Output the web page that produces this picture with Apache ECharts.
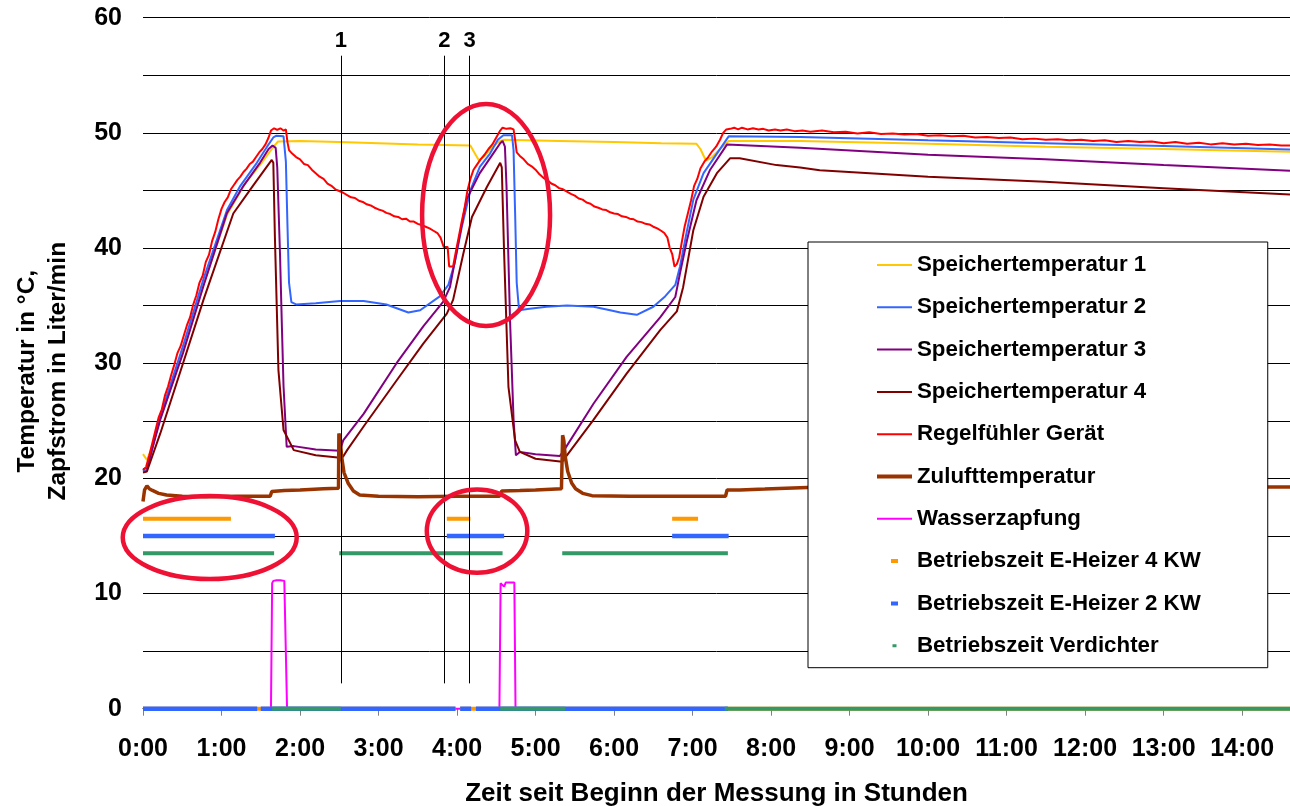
<!DOCTYPE html>
<html>
<head>
<meta charset="utf-8">
<title>Speichertemperaturen</title>
<script src="https://cdn.jsdelivr.net/npm/echarts@6/dist/echarts.min.js"></script>
<style>
  html, body { margin: 0; padding: 0; background: #fff; }
  #root { width: 1290px; height: 806px; }
</style>
</head>
<body>
<div id="root"></div>
<script>
// x = hours since start of measurement, y = °C (or l/min for Wasserzapfung)
const speicher1 = [[0, 22.1], [0.05, 21.6], [0.1, 22.4], [0.22, 25.2], [0.51, 31.0], [0.77, 36.8], [1.07, 42.9], [1.3, 45.6], [1.5, 47.3], [1.65, 48.7], [1.72, 49.25], [2.0, 49.3], [2.5, 49.2], [3.0, 49.1], [3.5, 49.0], [4.17, 48.9], [4.22, 48.3], [4.28, 47.6], [4.35, 48.0], [4.45, 48.8], [4.55, 49.3], [4.6, 49.4], [5.3, 49.3], [6.0, 49.2], [6.6, 49.1], [7.05, 49.05], [7.1, 48.6], [7.17, 47.6], [7.25, 47.9], [7.35, 48.6], [7.46, 49.3], [8.37, 49.3], [10.0, 49.05], [11.5, 48.8], [13.0, 48.6], [14.61, 48.35]]

const speicher2 = [[0, 20.6], [0.05, 20.7], [0.22, 25.4], [0.51, 31.5], [0.77, 37.3], [1.07, 43.3], [1.24, 45.4], [1.45, 47.4], [1.58, 48.8], [1.66, 49.6], [1.7, 49.75], [1.79, 49.7], [1.82, 47.5], [1.84, 42.0], [1.86, 37.0], [1.89, 35.3], [1.95, 35.1], [2.2, 35.2], [2.51, 35.4], [2.81, 35.4], [3.1, 35.1], [3.38, 34.4], [3.53, 34.6], [3.78, 35.8], [3.89, 36.8], [3.97, 38.7], [4.06, 41.8], [4.17, 45.0], [4.29, 47.05], [4.42, 48.2], [4.52, 49.4], [4.59, 49.8], [4.7, 49.8], [4.72, 48.5], [4.74, 43.0], [4.76, 37.0], [4.79, 34.6], [4.9, 34.7], [5.14, 34.9], [5.4, 35.0], [5.74, 34.9], [5.95, 34.6], [6.08, 34.4], [6.29, 34.2], [6.5, 34.9], [6.65, 35.8], [6.78, 36.8], [6.84, 38.4], [6.93, 41.55], [7.01, 44.2], [7.14, 46.5], [7.31, 48.2], [7.46, 49.7], [8.37, 49.65], [10.0, 49.35], [11.49, 49.1], [13.0, 48.85], [14.61, 48.55]]

const speicher3 = [[0, 20.8], [0.05, 20.9], [0.22, 25.1], [0.51, 30.9], [0.77, 36.7], [1.07, 43.05], [1.28, 45.4], [1.49, 47.4], [1.6, 48.6], [1.65, 48.9], [1.69, 48.7], [1.71, 47.0], [1.745, 39.5], [1.77, 33.0], [1.79, 28.0], [1.83, 22.75], [1.85, 22.6], [1.92, 22.8], [2.2, 22.5], [2.51, 22.4], [2.55, 23.3], [2.81, 25.6], [3.23, 30.0], [3.57, 33.2], [3.825, 35.35], [3.91, 36.6], [3.99, 39.5], [4.12, 44.2], [4.29, 46.5], [4.46, 48.2], [4.55, 49.1], [4.58, 49.3], [4.61, 48.8], [4.63, 45.4], [4.675, 33.75], [4.72, 25.1], [4.75, 22.0], [4.8, 22.3], [5.0, 22.1], [5.31, 21.95], [5.35, 22.3], [5.74, 26.5], [6.16, 30.55], [6.59, 34.0], [6.78, 35.75], [6.84, 37.8], [6.93, 40.7], [7.05, 44.15], [7.22, 46.75], [7.44, 49.0], [8.37, 48.7], [10.0, 48.1], [11.49, 47.7], [13.0, 47.2], [14.61, 46.7]]

const speicher4 = [[0, 20.5], [0.05, 20.6], [0.22, 23.9], [0.51, 30.0], [0.77, 35.5], [1.15, 43.0], [1.4, 45.4], [1.64, 47.65], [1.66, 47.4], [1.68, 41.0], [1.725, 29.4], [1.79, 24.2], [1.92, 22.45], [2.2, 22.0], [2.51, 21.8], [2.55, 21.9], [2.6, 22.45], [2.81, 24.5], [3.23, 28.5], [3.57, 31.7], [3.87, 34.3], [3.95, 35.5], [4.08, 39.5], [4.19, 42.7], [4.38, 45.3], [4.55, 47.4], [4.57, 47.0], [4.6, 39.5], [4.655, 27.95], [4.74, 23.3], [4.8, 22.3], [5.0, 21.7], [5.34, 21.45], [5.36, 21.6], [5.74, 25.1], [6.16, 29.1], [6.59, 32.9], [6.8, 34.5], [6.88, 36.6], [7.01, 41.55], [7.14, 44.45], [7.31, 46.5], [7.48, 47.8], [7.6, 47.8], [8.07, 47.2], [8.37, 47.0], [8.62, 46.75], [10.0, 46.2], [11.49, 45.75], [13.0, 45.2], [14.61, 44.65]]

const regelfuehler = [[0, 20.7], [0.04, 21.0], [0.08, 22.0], [0.12, 23.1], [0.16, 24.2], [0.2, 25.3], [0.24, 26.0], [0.28, 27.2], [0.32, 28.0], [0.36, 29.0], [0.4, 29.9], [0.44, 30.9], [0.48, 31.5], [0.52, 32.4], [0.56, 33.3], [0.6, 34.0], [0.64, 35.1], [0.68, 35.9], [0.72, 37.0], [0.76, 37.6], [0.8, 38.8], [0.84, 39.4], [0.88, 40.6], [0.92, 41.4], [0.96, 42.5], [1.0, 43.4], [1.04, 44.0], [1.08, 44.4], [1.12, 45.1], [1.16, 45.5], [1.2, 45.9], [1.24, 46.2], [1.28, 46.6], [1.32, 46.9], [1.36, 47.3], [1.4, 47.5], [1.44, 47.9], [1.48, 48.3], [1.52, 48.6], [1.56, 49.0], [1.6, 49.6], [1.63, 50.2], [1.67, 50.4], [1.71, 50.25], [1.75, 50.4], [1.79, 50.2], [1.82, 50.3], [1.84, 49.2], [1.86, 48.5], [1.9, 48.2], [1.95, 47.9], [2.0, 47.7], [2.05, 47.3], [2.1, 47.2], [2.15, 46.8], [2.2, 46.5], [2.25, 46.2], [2.3, 46.0], [2.35, 45.6], [2.4, 45.4], [2.45, 45.1], [2.5, 44.95], [2.55, 44.8], [2.6, 44.6], [2.65, 44.4], [2.7, 44.35], [2.75, 44.1], [2.8, 44.0], [2.85, 43.8], [2.9, 43.7], [2.95, 43.5], [3.0, 43.35], [3.05, 43.25], [3.1, 43.05], [3.15, 42.95], [3.2, 42.75], [3.25, 42.7], [3.3, 42.5], [3.35, 42.55], [3.4, 42.3], [3.45, 42.3], [3.5, 42.1], [3.55, 42.0], [3.6, 41.85], [3.65, 41.7], [3.7, 41.5], [3.75, 41.3], [3.79, 40.9], [3.83, 40.1], [3.88, 40.1], [3.9, 38.4], [3.95, 38.4], [3.98, 39.5], [4.02, 40.9], [4.06, 42.3], [4.1, 43.6], [4.13, 44.9], [4.17, 46.0], [4.21, 46.8], [4.25, 47.2], [4.3, 47.7], [4.35, 48.1], [4.4, 48.6], [4.45, 49.0], [4.5, 49.6], [4.55, 50.2], [4.58, 50.45], [4.63, 50.35], [4.68, 50.4], [4.72, 50.3], [4.74, 49.4], [4.76, 48.3], [4.8, 48.0], [4.85, 47.7], [4.9, 47.3], [4.95, 47.1], [5.0, 46.8], [5.05, 46.4], [5.1, 46.1], [5.15, 45.9], [5.2, 45.6], [5.25, 45.45], [5.3, 45.2], [5.35, 45.1], [5.4, 44.9], [5.45, 44.7], [5.5, 44.55], [5.55, 44.3], [5.6, 44.2], [5.65, 43.95], [5.7, 43.85], [5.75, 43.6], [5.8, 43.5], [5.85, 43.35], [5.9, 43.3], [5.95, 43.1], [6.0, 43.0], [6.05, 42.95], [6.1, 42.75], [6.15, 42.7], [6.2, 42.55], [6.25, 42.5], [6.3, 42.3], [6.35, 42.25], [6.4, 42.1], [6.45, 42.05], [6.5, 41.85], [6.55, 41.7], [6.6, 41.5], [6.64, 41.3], [6.68, 40.9], [6.71, 40.0], [6.74, 39.5], [6.77, 38.4], [6.8, 38.6], [6.83, 39.2], [6.86, 40.4], [6.9, 41.9], [6.94, 43.0], [6.98, 44.1], [7.02, 45.4], [7.06, 46.0], [7.1, 46.9], [7.15, 47.5], [7.2, 47.9], [7.25, 48.4], [7.3, 48.8], [7.35, 49.4], [7.39, 50.0], [7.43, 50.3], [7.48, 50.35], [7.53, 50.45], [7.58, 50.3], [7.63, 50.45], [7.7, 50.3], [7.77, 50.4], [7.84, 50.3], [7.9, 50.35], [7.97, 50.2], [8.05, 50.3], [8.12, 50.2], [8.2, 50.3], [8.3, 50.15], [8.4, 50.2], [8.5, 50.1], [8.65, 50.2], [8.8, 50.05], [8.95, 50.1], [9.1, 49.95], [9.25, 50.05], [9.4, 49.9], [9.55, 49.95], [9.7, 49.85], [9.85, 49.9], [10.0, 49.75], [10.15, 49.8], [10.3, 49.7], [10.45, 49.75], [10.6, 49.6], [10.75, 49.65], [10.9, 49.55], [11.05, 49.6], [11.2, 49.45], [11.35, 49.5], [11.5, 49.4], [11.65, 49.45], [11.8, 49.35], [11.95, 49.4], [12.1, 49.3], [12.25, 49.35], [12.4, 49.2], [12.55, 49.3], [12.7, 49.2], [12.85, 49.25], [13.0, 49.1], [13.15, 49.2], [13.3, 49.05], [13.45, 49.15], [13.6, 49.0], [13.75, 49.1], [13.9, 49.0], [14.05, 49.05], [14.2, 48.95], [14.35, 49.0], [14.5, 48.9], [14.61, 48.9]]

const zuluft = [[0, 18.0], [0.02, 19.0], [0.05, 19.35], [0.08, 19.1], [0.12, 18.95], [0.2, 18.7], [0.3, 18.55], [0.5, 18.45], [0.8, 18.4], [1.2, 18.45], [1.62, 18.45], [1.64, 18.85], [1.8, 18.95], [2.0, 19.0], [2.3, 19.1], [2.49, 19.15], [2.495, 23.9], [2.51, 23.5], [2.53, 21.9], [2.56, 20.5], [2.615, 19.55], [2.68, 18.9], [2.76, 18.55], [3.0, 18.45], [3.5, 18.4], [4.0, 18.45], [4.54, 18.45], [4.57, 18.9], [4.8, 18.95], [5.0, 19.0], [5.33, 19.1], [5.345, 23.75], [5.36, 23.3], [5.38, 21.8], [5.41, 20.6], [5.46, 19.6], [5.51, 19.1], [5.6, 18.7], [5.72, 18.5], [6.2, 18.45], [6.8, 18.45], [7.42, 18.45], [7.44, 19.0], [7.6, 19.0], [7.92, 19.07], [8.46, 19.2], [10.0, 19.2], [12.0, 19.25], [14.61, 19.25]]

const wasserzapfung = [[0, 0], [1.63, 0], [1.645, 10.9], [1.66, 11.1], [1.7, 11.15], [1.72, 11.0], [1.75, 11.15], [1.8, 11.1], [1.82, 11.0], [1.835, 0], [4.54, 0], [4.555, 10.9], [4.58, 10.95], [4.6, 10.6], [4.62, 10.95], [4.73, 10.95], [4.745, 0], [14.61, 0]]

// operating periods [from, to] in hours; "zero" periods are the readings drawn on the 0 line
const heater4On = [[0, 1.12], [3.87, 4.17], [6.74, 7.07]]
const heater4Zero = [[0, 3.98], [4.04, 14.61]]
const heater2On = [[0, 1.68], [3.87, 4.6], [6.74, 7.46]]
const heater2Zero = [[0, 1.455], [1.5, 3.98], [4.04, 4.18], [4.24, 7.45]]
const compressorOn = [[0, 1.67], [2.5, 4.58], [5.34, 7.45]]
const compressorZero = [[1.645, 2.52], [4.55, 5.38], [7.41, 14.61]]
const statusLevels = [16.5, 15, 13.5]

// numbered vertical markers
const markerTimes = [2.52, 3.84, 4.16]
const markerLabels = ['1', '2', '3']
const markerSpan = [2.2, 56.7]

// red hand-drawn ellipses: centre [h, °C] and radii [h, °C]
const noteCenters = [[4.37, 42.86], [0.85, 14.86], [4.255, 15.42]]
const noteRadii = [[0.815, 9.64], [1.108, 3.6], [0.64, 3.62]]

const xMax = 14.61
const font = '"Liberation Sans", Arial, sans-serif'

const statusData = (onRanges, zeroRanges, level) => {
  const out = []
  onRanges.forEach(([a, b]) => { out.push([a, level], [b, level], [b, '-']) })
  zeroRanges.forEach(([a, b]) => { out.push([a, 0], [b, 0], [b, '-']) })
  return out
}

const lineSeries = (name, data, color, width) => ({
  name,
  type: 'line',
  data,
  symbol: 'none',
  clip: false,
  silent: true,
  animation: false,
  connectNulls: false,
  lineStyle: { color, width, cap: 'butt' },
  itemStyle: { color },
  emphasis: { disabled: true }
})

const lineIcon = 'path://M0,0h35v2h-35z'
const thickIcon = 'path://M0,0h35v4h-35z'
const dashIcon = 'path://M0,0h0.01M35,14h0.01M14,5h7v4h-7z'
const dotIcon = 'path://M0,0h0.01M35,14h0.01M15.5,5.5h4v3h-4z'

const series = [
  lineSeries('Speichertemperatur 1', speicher1, '#FFC800', 2),
  lineSeries('Speichertemperatur 2', speicher2, '#3366FF', 2),
  lineSeries('Speichertemperatur 3', speicher3, '#800080', 2),
  lineSeries('Speichertemperatur 4', speicher4, '#800000', 2),
  lineSeries('Regelfühler Gerät', regelfuehler, '#FF0000', 2),
  lineSeries('Zulufttemperatur', zuluft, '#993300', 3.5),
  lineSeries('Wasserzapfung', wasserzapfung, '#FF00FF', 2),
  lineSeries('Betriebszeit E-Heizer 4 KW', statusData(heater4On, heater4Zero, statusLevels[0]), '#FF9900', 4),
  lineSeries('Betriebszeit E-Heizer 2 KW', statusData(heater2On, heater2Zero, statusLevels[1]), '#3366FF', 4.5),
  lineSeries('Betriebszeit Verdichter', statusData(compressorOn, compressorZero, statusLevels[2]), '#339966', 4)
]

series[0].markLine = {
  silent: true,
  symbol: 'none',
  animation: false,
  lineStyle: { color: '#000', width: 1, type: 'solid' },
  label: { show: true, position: 'end', distance: 4, formatter: '{b}', color: '#000', fontSize: 22, fontWeight: 'bold', fontFamily: font },
  emphasis: { disabled: true },
  data: markerTimes.map((t, i) => [
    { coord: [t, markerSpan[0]], name: markerLabels[i] },
    { coord: [t, markerSpan[1]] }
  ])
}

const icons = [lineIcon, lineIcon, lineIcon, lineIcon, lineIcon, thickIcon, lineIcon, dashIcon, dashIcon, dotIcon]

const option = {
  animation: false,
  backgroundColor: '#fff',
  textStyle: { fontFamily: font },
  grid: { left: 143, right: 0, top: 17.7, bottom: 97.3, outerBoundsMode: 'none' },
  legend: {
    orient: 'vertical',
    left: 808,
    top: 242,
    padding: [12, 67, 11, 69],
    itemGap: 20.3,
    itemWidth: 35,
    itemHeight: 14,
    backgroundColor: '#fff',
    borderColor: '#000',
    borderWidth: 1,
    selectedMode: false,
    itemStyle: { borderWidth: 0 },
    textStyle: { fontSize: 22.3, fontWeight: 'bold', color: '#000', lineHeight: 22, fontFamily: font },
    data: series.map((s, i) => ({ name: s.name, icon: icons[i] }))
  },
  xAxis: {
    type: 'value',
    min: 0,
    max: xMax,
    interval: 1,
    axisLine: { show: true, onZero: false, lineStyle: { color: '#000', width: 1 } },
    axisTick: { show: true, length: 7, lineStyle: { color: '#808080' } },
    axisLabel: {
      formatter: v => Number.isInteger(v) ? v + ':00' : '',
      fontSize: 25,
      fontWeight: 'bold',
      color: '#000',
      margin: 28,
      fontFamily: font
    },
    splitLine: { show: false },
    name: 'Zeit seit Beginn der Messung in Stunden',
    nameLocation: 'middle',
    nameGap: 72,
    nameTextStyle: { fontSize: 26, fontWeight: 'bold', color: '#000', fontFamily: font }
  },
  yAxis: {
    type: 'value',
    min: 0,
    max: 60,
    interval: 5,
    axisLine: { show: false },
    axisTick: { show: false },
    axisLabel: {
      formatter: v => v % 10 === 0 ? String(v) : '',
      fontSize: 25,
      fontWeight: 'bold',
      color: '#000',
      margin: 21,
      fontFamily: font
    },
    splitLine: { show: true, lineStyle: { color: '#000', width: 1 } },
    name: 'Temperatur in °C,\nZapfstrom in Liter/min',
    nameLocation: 'middle',
    nameRotate: 90,
    nameGap: 69,
    nameTextStyle: { fontSize: 24.5, fontWeight: 'bold', color: '#000', lineHeight: 31, fontFamily: font, padding: [0, 16, 0, 0] }
  },
  series
}

const chart = echarts.init(document.getElementById('root'))
chart.setOption(option)

// red annotation ellipses, placed through the chart's own coordinate system
const toPx = p => chart.convertToPixel({ gridIndex: 0 }, p)
chart.setOption({
  graphic: noteCenters.map((c, i) => {
    const [cx, cy] = toPx(c)
    const rx = toPx([c[0] + noteRadii[i][0], c[1]])[0] - cx
    const ry = cy - toPx([c[0], c[1] + noteRadii[i][1]])[1]
    return {
      type: 'ellipse',
      silent: true,
      z: 100,
      shape: { cx, cy, rx, ry },
      style: { fill: 'none', stroke: '#EE1133', lineWidth: 4.5 }
    }
  })
})
</script>
</body>
</html>
